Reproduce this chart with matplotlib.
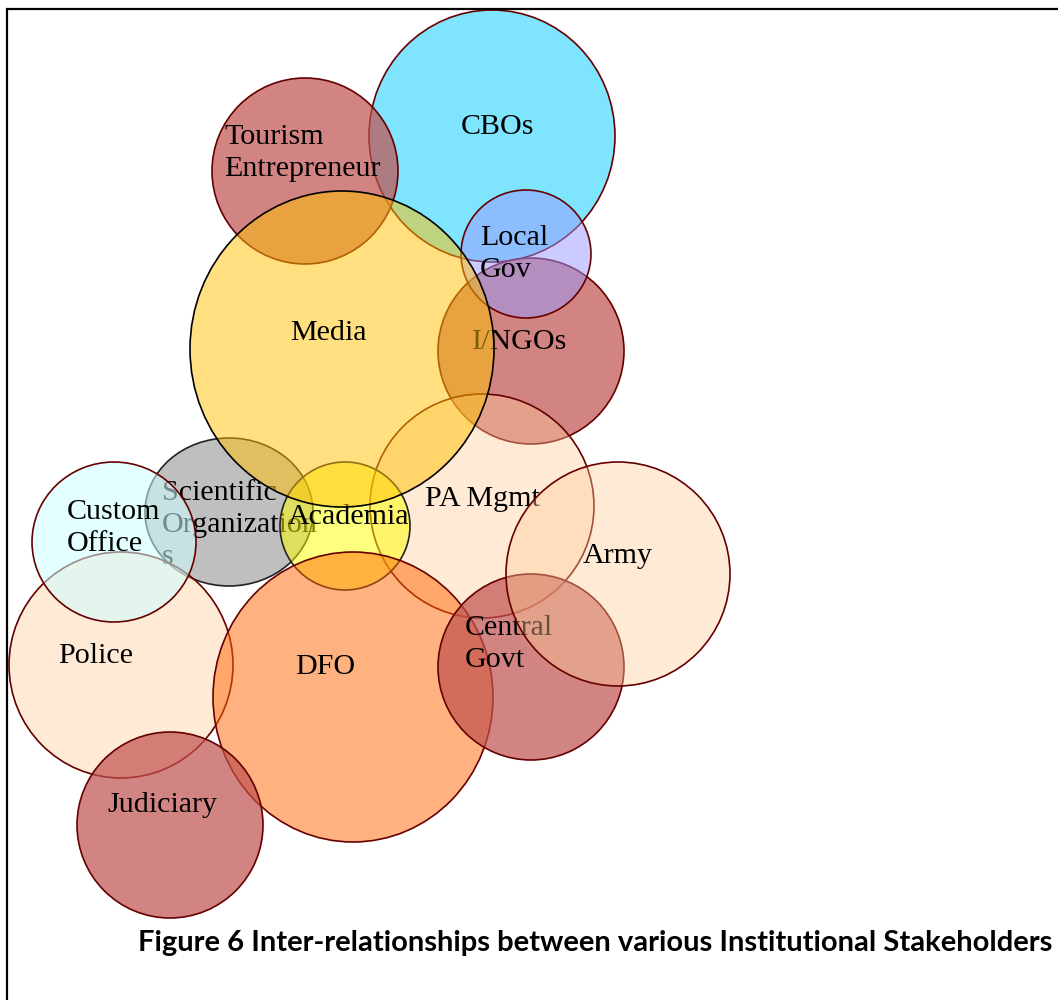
import matplotlib.pyplot as plt
from matplotlib.patches import Ellipse

# stakeholder shapes, pixel units of the original figure (y down), in drawing order
names = ["CBOs", "Tourism\nEntrepreneur", "I/NGOs", "Local\nGov", "Scientific\nOrganization\ns",
         "PA Mgmt", "Academia", "Media", "Police", "Custom\nOffice", "DFO",
         "Judiciary", "Central\nGovt", "Army"]
center_x = [492, 305, 531, 526, 229, 482, 345, 342, 121, 114, 353, 170, 531, 618]
center_y = [136, 171, 351, 254, 512, 506, 526, 349, 665, 542, 697, 825, 667, 574]
radius_x = [123, 93, 93, 65, 84, 112, 65, 152, 112, 82, 140, 93, 93, 112]
radius_y = [126, 93, 93, 64, 74, 112, 64, 158, 113, 80, 145, 93, 93, 112]

# label anchor (left x, centre y of text block)
label_x = [461, 224, 472, 480, 162, 425, 288, 290, 58, 67, 295, 107, 465, 583]
label_y = [127, 153, 342, 254, 525, 499, 517, 333, 656, 528, 667, 805, 644, 556]

red = ('#C0504D', 0.7)
peach = ('#FFCC99', 0.4)
fills = [('#00CCFF', 0.5), red, red, ('#9999FF', 0.5), ('#808080', 0.5),
         peach, ('#FFFF00', 0.5), ('#FFC000', 0.5), peach, ('#CCFFFF', 0.55),
         ('#FF6600', 0.5), red, red, peach]
edges = ['#660000', '#660000', '#660000', '#660000', '#222222', '#660000', '#222222',
         'black', '#660000', '#660000', '#660000', '#660000', '#660000', '#660000']

caption = "Figure 6 Inter-relationships between various Institutional Stakeholders"

fig = plt.figure(figsize=(10.58, 10), dpi=100)
ax = fig.add_axes([0, 0, 1, 1])
ax.set_xlim(0, 1058)
ax.set_ylim(1000, 0)
ax.set_aspect('equal')
ax.axis('off')

for i, name in enumerate(names):
    col, a = fills[i]
    xy = (center_x[i], center_y[i])
    w, h = 2 * radius_x[i], 2 * radius_y[i]
    ax.add_patch(Ellipse(xy, w, h, facecolor=col, alpha=a, edgecolor='none', zorder=2 * i + 1))
    ax.add_patch(Ellipse(xy, w, h, facecolor='none', edgecolor=edges[i], lw=1.2,
                         zorder=2 * i + 1.2))
    ax.text(label_x[i], label_y[i], name, family='Liberation Serif', fontsize=21.6,
            ha='left', va='center', linespacing=1.32, zorder=2 * i + 1.5)

# page frame
ax.plot([7, 7, 1058], [1000, 9, 9], color='black', lw=1.6, zorder=100,
        solid_capstyle='butt', solid_joinstyle='miter')

cap = ax.text(138, 951, caption, family='Lato', fontweight='bold', fontsize=18,
              ha='left', va='baseline', zorder=100)
fig.canvas.draw()
w = cap.get_window_extent().width
cap.set_fontsize(18 * 914 / w)

fig.savefig('out.png', dpi=100)
